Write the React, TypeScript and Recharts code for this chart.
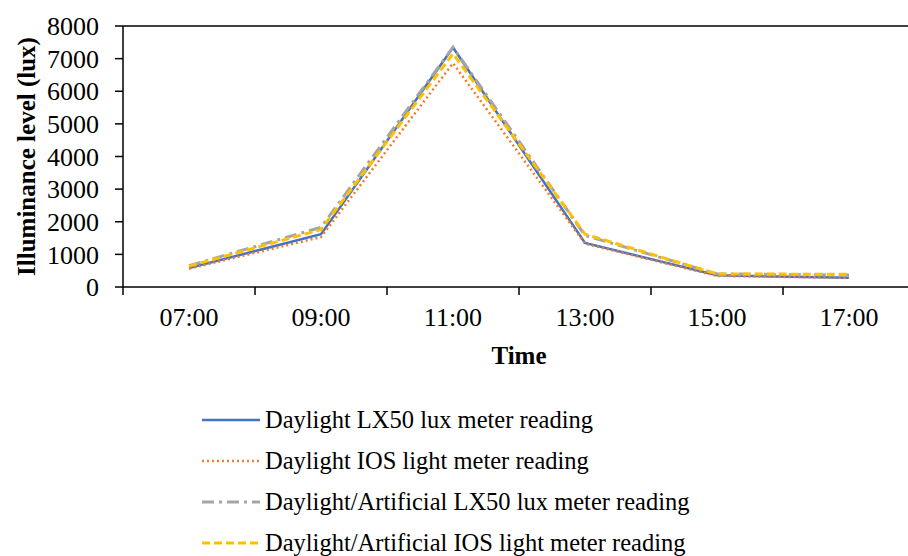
import React from 'react';
import { LineChart, Line, XAxis, YAxis, Legend, ReferenceLine } from 'recharts';

// time of day readings were taken
const times = ['07:00', '09:00', '11:00', '13:00', '15:00', '17:00'];

// illuminance readings (lux)
const daylightLx50 = [580, 1620, 7340, 1350, 360, 280];
const daylightIos = [560, 1530, 6860, 1330, 340, 280];
const mixedLx50 = [650, 1830, 7350, 1580, 400, 370];
const mixedIos = [640, 1760, 7150, 1620, 400, 390];

const seriesNames = [
  'Daylight LX50 lux meter reading',
  'Daylight IOS light meter reading',
  'Daylight/Artificial LX50 lux meter reading',
  'Daylight/Artificial IOS light meter reading',
];

const yTicks = [0, 1000, 2000, 3000, 4000, 5000, 6000, 7000, 8000];

const data = times.map((t, i) => ({
  time: t,
  s1: daylightLx50[i],
  s2: daylightIos[i],
  s3: mixedLx50[i],
  s4: mixedIos[i],
}));

// line looks, same order as seriesNames
const lineStyles = [
  { key: 's1', color: '#4472C4', width: 2.5, dash: undefined },
  { key: 's2', color: '#ED7D31', width: 2.5, dash: '2 3' },
  { key: 's3', color: '#A5A5A5', width: 3, dash: '12 5 3 5' },
  { key: 's4', color: '#FFC000', width: 3, dash: '8 4' },
];

const FONT = '"Liberation Serif", "Times New Roman", serif';
const CHART_W = 930;
const CHART_H = 556;
const Y_AXIS_W = 123;
const MARGIN_RIGHT = 15;
const HALF_BAND = (CHART_W - Y_AXIS_W - MARGIN_RIGHT) / times.length / 2;

const XTick = (props: any) => {
  const { x, y, payload } = props;
  return (
    <g>
      <line x1={x - HALF_BAND} x2={x - HALF_BAND} y1={y - 8} y2={y} stroke="#000" strokeWidth={1.5} />
      <text x={x} y={y + 31} textAnchor="middle" fontSize={26} fontFamily={FONT} fill="#000">
        {payload.value}
      </text>
    </g>
  );
};

const LegendBox = () => (
  <div style={{ fontFamily: FONT, fontSize: 24.5, color: '#000' }}>
    {seriesNames.map((name, i) => {
      const st = lineStyles[i];
      return (
        <div key={name} style={{ display: 'flex', alignItems: 'center', height: 41, whiteSpace: 'nowrap' }}>
          <svg width={58} height={10} style={{ marginRight: 5 }}>
            <line x1={0} x2={58} y1={5} y2={5} stroke={st.color} strokeWidth={st.width} strokeDasharray={st.dash} />
          </svg>
          <span>{name}</span>
        </div>
      );
    })}
  </div>
);

export default function App() {
  return (
    <div style={{ position: 'absolute', left: 0, top: 0, width: 908, height: 556, overflow: 'hidden', background: '#fff' }}>
      <LineChart
        width={CHART_W}
        height={CHART_H}
        data={data}
        margin={{ top: 26, right: MARGIN_RIGHT, bottom: 229, left: 0 }}
      >
        <XAxis
          dataKey="time"
          scale="band"
          height={40}
          tickSize={8}
          tickMargin={0}
          tickLine={false}
          tick={<XTick />}
          axisLine={{ stroke: '#000', strokeWidth: 1.5 }}
          interval={0}
          label={{
            value: 'Time',
            position: 'bottom',
            offset: 19,
            style: { fontFamily: FONT, fontSize: 25, fontWeight: 'bold', fill: '#000' },
          }}
        />
        <YAxis
          width={Y_AXIS_W}
          domain={[0, 8000]}
          ticks={yTicks}
          interval={0}
          tickSize={8}
          tickMargin={16}
          axisLine={{ stroke: '#000', strokeWidth: 1.5 }}
          tickLine={{ stroke: '#000', strokeWidth: 1.5 }}
          tick={{ fontFamily: FONT, fontSize: 26, fill: '#000' }}
          label={{
            value: 'Illuminance level (lux)',
            angle: -90,
            position: 'insideLeft',
            offset: 26,
            style: { textAnchor: 'middle', fontFamily: FONT, fontSize: 25, fontWeight: 'bold', fill: '#000' },
          }}
        />
        <ReferenceLine y={8000} stroke="#000" strokeWidth={1.5} />
        {lineStyles.map((st, i) => (
          <Line
            key={st.key}
            dataKey={st.key}
            name={seriesNames[i]}
            type="linear"
            stroke={st.color}
            strokeWidth={st.width}
            strokeDasharray={st.dash}
            dot={false}
            activeDot={false}
            isAnimationActive={false}
          />
        ))}
        <Legend
          layout="vertical"
          align="center"
          verticalAlign="middle"
          content={<LegendBox />}
          wrapperStyle={{ left: 202, top: 399, width: 700, height: 170 }}
        />
      </LineChart>
    </div>
  );
}
